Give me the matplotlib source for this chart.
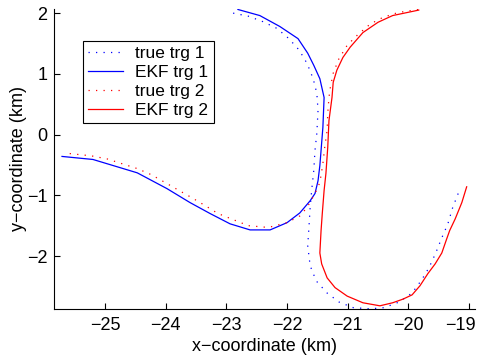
import matplotlib
matplotlib.use("Agg")
import matplotlib.pyplot as plt
from matplotlib.transforms import ScaledTranslation

plt.rcParams['font.family'] = ['Liberation Sans', 'DejaVu Sans']

# true track 1 (crosses from top-left down to bottom-right)
true1_x = [-22.89, -22.64, -22.40, -22.17, -21.97, -21.80, -21.67, -21.57, -21.51, -21.49,
           -21.51, -21.54, -21.56, -21.59, -21.62, -21.64, -21.66, -21.62, -21.52, -21.34,
           -21.14, -20.91, -20.63, -20.40, -20.16, -19.94, -19.78, -19.66, -19.55, -19.45,
           -19.35, -19.27, -19.18]
true1_y = [2.00, 1.95, 1.86, 1.75, 1.58, 1.39, 1.17, 0.92, 0.68, 0.40,
           0.02, -0.26, -0.59, -0.87, -1.20, -1.53, -1.83, -2.16, -2.41, -2.61,
           -2.76, -2.85, -2.87, -2.85, -2.76, -2.61, -2.39, -2.19, -1.95, -1.70,
           -1.47, -1.20, -0.97]

# EKF estimate of track 1
ekf1_x = [-22.81, -22.45, -22.12, -21.82, -21.66, -21.56, -21.46, -21.39, -21.41, -21.44,
          -21.46, -21.49, -21.54, -21.62, -21.79, -22.00, -22.28, -22.61, -22.94, -23.27,
          -23.60, -23.98, -24.47, -25.20, -25.71]
ekf1_y = [2.06, 1.96, 1.78, 1.58, 1.34, 1.14, 0.92, 0.61, 0.12, -0.26,
          -0.51, -0.76, -0.97, -1.09, -1.29, -1.45, -1.57, -1.57, -1.47, -1.30,
          -1.12, -0.89, -0.63, -0.41, -0.36]

# true track 2
true2_x = [-19.84, -20.17, -20.42, -20.63, -20.83, -21.01, -21.15, -21.24, -21.29, -21.31,
           -21.33, -21.34, -21.38, -21.41, -21.46, -21.54, -21.67, -21.79, -22.00, -22.31,
           -22.64, -22.89, -23.14, -23.35, -23.57, -23.80, -24.01, -24.24, -24.47, -24.72,
           -24.97, -25.23, -25.61]
true2_y = [2.06, 2.01, 1.93, 1.82, 1.65, 1.47, 1.24, 1.01, 0.76, 0.61,
           0.35, 0.07, -0.21, -0.48, -0.79, -0.97, -1.20, -1.34, -1.45, -1.53,
           -1.50, -1.40, -1.30, -1.17, -1.04, -0.91, -0.79, -0.66, -0.56, -0.48,
           -0.40, -0.35, -0.31]

# EKF estimate of track 2
ekf2_x = [-19.83, -20.02, -20.26, -20.50, -20.75, -20.96, -21.08, -21.18, -21.24, -21.26,
          -21.31, -21.33, -21.36, -21.39, -21.42, -21.44, -21.46, -21.43, -21.34, -21.21,
          -21.01, -20.75, -20.47, -20.26, -20.09, -19.94, -19.81, -19.68, -19.56, -19.45,
          -19.37, -19.32, -19.23, -19.12, -19.04]
ekf2_y = [2.05, 2.01, 1.96, 1.85, 1.68, 1.44, 1.27, 1.06, 0.86, 0.61,
          0.23, -0.21, -0.64, -0.92, -1.30, -1.58, -1.95, -2.13, -2.36, -2.52,
          -2.66, -2.77, -2.82, -2.77, -2.71, -2.64, -2.49, -2.29, -2.13, -1.95,
          -1.72, -1.58, -1.39, -1.12, -0.86]

xticks = [-25, -24, -23, -22, -21, -20, -19]
yticks = [-2, -1, 0, 1, 2]

fig = plt.figure(figsize=(4.79, 3.55), dpi=100)
ax = fig.add_axes([0.113, 0.130, 0.879, 0.845])

dots = (0, (1, 5))
ax.plot(true1_x, true1_y, color="blue", linestyle=dots, lw=0.9, label="true trg 1")
ax.plot(ekf1_x, ekf1_y, color="blue", lw=0.9, label="EKF trg 1")
ax.plot(true2_x, true2_y, color="red", linestyle=dots, lw=0.9, label="true trg 2")
ax.plot(ekf2_x, ekf2_y, color="red", lw=0.9, label="EKF trg 2")

ax.set_xlim(-25.84, -18.9)
ax.set_ylim(-2.87, 2.07)
ax.set_xticks(xticks)
ax.set_yticks(yticks)
ax.spines["top"].set_visible(False)
ax.spines["right"].set_visible(False)
ax.tick_params(direction="in", length=4, labelsize=13)
ax.tick_params(axis="x", pad=6)
ax.tick_params(axis="y", pad=5)
ax.set_xlabel("x\u2212coordinate (km)", fontsize=13, labelpad=2.5)
ax.set_ylabel("y\u2212coordinate (km)", fontsize=13, labelpad=0)

# keep the last x tick label inside the figure, as in the original
last = ax.get_xticklabels()[-1]
last.set_transform(last.get_transform() + ScaledTranslation(-6 / 72, 0, fig.dpi_scale_trans))

leg = ax.legend(loc="upper left", bbox_to_anchor=(0.069, 0.893), borderaxespad=0,
                fancybox=False, edgecolor="black", framealpha=1, fontsize=12.5,
                handlelength=2.0, labelspacing=0.22, borderpad=0.3, handletextpad=0.7)
leg.get_frame().set_linewidth(0.8)

fig.savefig("out.png", dpi=100)
